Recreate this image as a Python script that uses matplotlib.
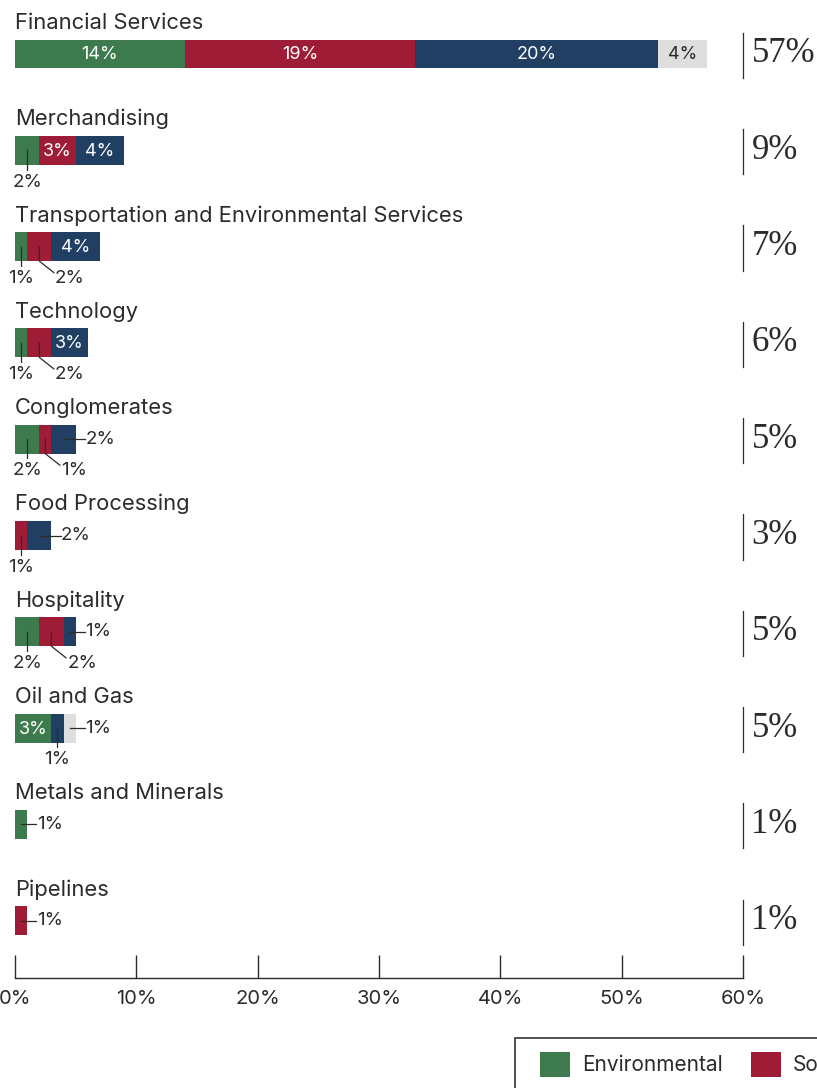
import numpy as np
import matplotlib.pyplot as plt
from matplotlib.patches import Patch, Rectangle
from matplotlib.legend_handler import HandlerPatch

# sector exposure by ESG pillar, in % of the portfolio
categories = ['Financial Services', 'Merchandising',
              'Transportation and Environmental Services', 'Technology',
              'Conglomerates', 'Food Processing', 'Hospitality', 'Oil and Gas',
              'Metals and Minerals', 'Pipelines']
environmental = [14, 2, 1, 1, 2, 0, 2, 3, 1, 0]
social = [19, 3, 2, 2, 1, 1, 2, 0, 0, 1]
governance = [20, 4, 4, 3, 2, 2, 1, 1, 0, 0]
other = [4, 0, 0, 0, 0, 0, 0, 1, 0, 0]
totals = [57, 9, 7, 6, 5, 3, 5, 5, 1, 1]
series_names = ['Environmental', 'Social', 'Governance', 'Other']
xticks = [0, 10, 20, 30, 40, 50, 60]

colors = ['#3d7b4f', '#9e1c35', '#213f62', '#dedede']
text_dark = '#2b2b2b'
sans = ['Inter', 'DejaVu Sans']
serif = ['Liberation Serif', 'DejaVu Serif']

# how each segment value gets labelled: inside, below, below-right, or to the right
label_modes = [
    ['in', 'in', 'in', 'in'],
    ['down', 'in', 'in', None],
    ['down', 'diag', 'in', None],
    ['down', 'diag', 'in', None],
    ['down', 'diag', 'side', None],
    [None, 'down', 'side', None],
    ['down', 'diag', 'side', None],
    ['in', None, 'down', 'side'],
    ['side', None, None, None],
    [None, 'side', None, None],
]

fig = plt.figure(figsize=(8.17, 10.88), dpi=100)
ax = fig.add_axes([15 / 817, 1 - 978 / 1088, 728 / 817, 978 / 1088])

series = np.array([environmental, social, governance, other], dtype=float)
y = np.arange(len(categories))
bar_h = 0.30

left = np.zeros(len(categories))
for k in range(4):
    ax.barh(y, series[k], left=left, height=bar_h, color=colors[k], linewidth=0)
    left += series[k]

for i in y:
    ax.text(0, i - 0.325, categories[i], fontsize=15.8, color=text_dark,
            family=sans, va='center', ha='left')
    end = series[:, i].sum()
    start = 0
    for k in range(4):
        v = series[k, i]
        mode = label_modes[i][k]
        mid = start + v / 2
        txt = f'{v:.0f}%'
        if mode == 'in':
            c = text_dark if k == 3 else 'white'
            ax.text(mid, i + 0.01, txt, fontsize=13, color=c, family=sans,
                    ha='center', va='center')
        elif mode == 'down':
            ax.plot([mid, mid], [i, i + 0.2], color=text_dark, lw=0.9)
            ax.text(mid, i + 0.33, txt, fontsize=13.5, color=text_dark,
                    family=sans, ha='center', va='center')
        elif mode == 'diag':
            ax.plot([mid, mid, mid + 1.2], [i, i + 0.15, i + 0.27],
                    color=text_dark, lw=0.9)
            ax.text(mid + 1.3, i + 0.33, txt, fontsize=13.5, color=text_dark,
                    family=sans, ha='left', va='center')
        elif mode == 'side':
            ax.plot([mid, end + 0.75], [i, i], color=text_dark, lw=0.9)
            ax.text(end + 0.8, i, txt, fontsize=13.5, color=text_dark,
                    family=sans, ha='left', va='center')
        start += v

    # total for the sector, set off by a thin rule
    ax.plot([60, 60], [i - 0.22, i + 0.25], color=text_dark, lw=0.9,
            clip_on=False)
    ax.text(60.7, i, f'{totals[i]}%', fontsize=25, color=text_dark,
            family=serif, ha='left', va='center', clip_on=False)

ax.set_xlim(0, 60)
ax.set_ylim((978 - 54) / 96.3, -54 / 96.3)
for s in ['top', 'right', 'left']:
    ax.spines[s].set_visible(False)
ax.spines['bottom'].set_color(text_dark)
ax.spines['bottom'].set_linewidth(1.0)
ax.set_yticks([])
ax.set_xticks(xticks)
ax.set_xticklabels([f'{t}%' for t in xticks], family=sans, fontsize=14.5,
                   color=text_dark)
ax.tick_params(axis='x', direction='in', length=16.5, width=1.0,
               color=text_dark, pad=9)
ax.patch.set_alpha(0)


# legend swatch, inset a little from the left of its slot
def inset_square(legend, orig_handle, xdescent, ydescent, width, height, fontsize):
    inset = 8
    return Rectangle((-xdescent + inset, -ydescent), width - inset, height)


handles = [Patch(facecolor=c, edgecolor='none') for c in colors]
leg = fig.legend(handles, series_names, loc='upper left',
                 bbox_to_anchor=(515 / 817, 1 - 1038 / 1088), ncol=4,
                 frameon=True, fancybox=False, borderaxespad=0,
                 borderpad=0.65, handlelength=1.97, handleheight=1.5,
                 handletextpad=0.58, columnspacing=0.82,
                 handler_map={Patch: HandlerPatch(patch_func=inset_square)},
                 prop={'family': sans, 'size': 15})
leg.get_frame().set_edgecolor('black')
leg.get_frame().set_linewidth(1.2)
for t in leg.get_texts():
    t.set_color(text_dark)

fig.savefig('out.png', dpi=100)
